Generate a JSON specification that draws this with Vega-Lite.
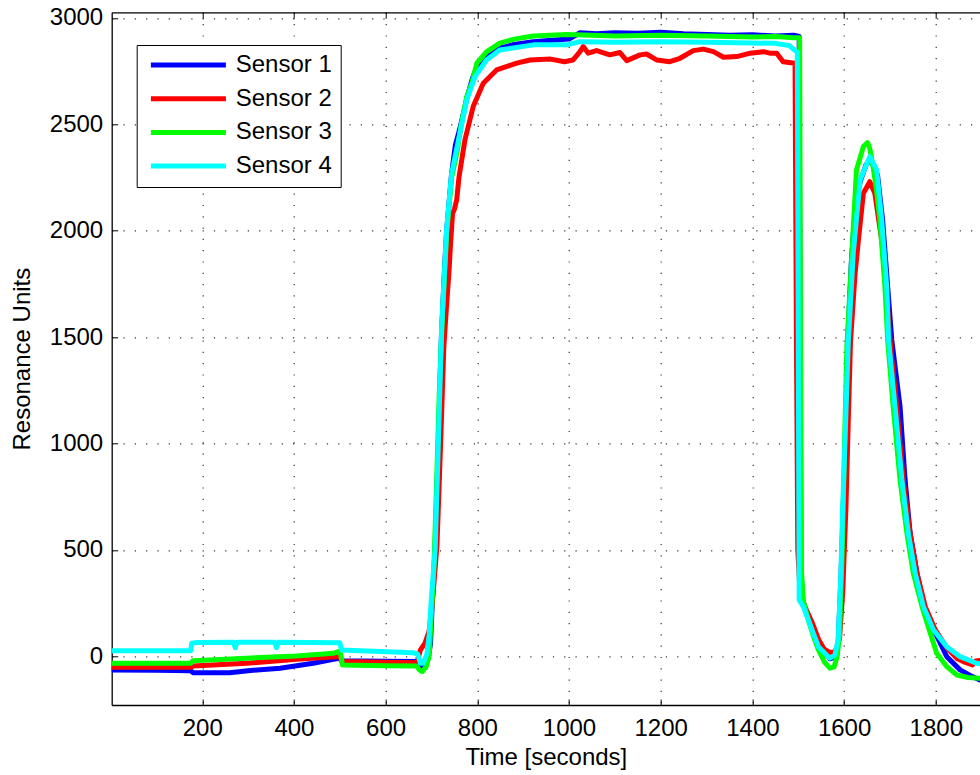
{
  "$schema": "https://vega.github.io/schema/vega-lite/v6.json",
  "width": 868.3,
  "height": 692.7,
  "autosize": {"type": "none"},
  "padding": {"left": 111.7, "top": 12.3, "right": 0, "bottom": 70},
  "background": "white",
  "config": {
    "view": {"stroke": null},
    "font": "Liberation Sans",
    "axis": {
      "labelFont": "Liberation Sans",
      "titleFont": "Liberation Sans",
      "labelFontSize": 24,
      "titleFontSize": 24,
      "titleFontWeight": "normal",
      "labelColor": "black",
      "titleColor": "black",
      "domainColor": "black",
      "domainWidth": 1.3,
      "tickColor": "black",
      "tickWidth": 1,
      "tickSize": -6,
      "gridColor": "black",
      "gridWidth": 1.2,
      "gridDash": [1.2, 10.1],
      "gridOpacity": 0.8,
      "format": "d"
    },
    "legend": {
      "labelFont": "Liberation Sans",
      "labelFontSize": 24,
      "labelColor": "black"
    }
  },
  "data": {
    "values": [
      {"t":3,"v":-64,"s":"Sensor 1"},{"t":100,"v":-66,"s":"Sensor 1"},{"t":175,"v":-68,"s":"Sensor 1"},{"t":180,"v":-77,"s":"Sensor 1"},{"t":260,"v":-77,"s":"Sensor 1"},{"t":300,"v":-68,"s":"Sensor 1"},{"t":370,"v":-56,"s":"Sensor 1"},{"t":442,"v":-33,"s":"Sensor 1"},{"t":486,"v":-14,"s":"Sensor 1"},{"t":500,"v":-10,"s":"Sensor 1"},{"t":504,"v":-21,"s":"Sensor 1"},{"t":600,"v":-24,"s":"Sensor 1"},{"t":668,"v":-25,"s":"Sensor 1"},{"t":676,"v":-50,"s":"Sensor 1"},{"t":686,"v":-41,"s":"Sensor 1"},{"t":693,"v":-10,"s":"Sensor 1"},{"t":698,"v":60,"s":"Sensor 1"},{"t":702,"v":260,"s":"Sensor 1"},{"t":708,"v":500,"s":"Sensor 1"},{"t":715,"v":1000,"s":"Sensor 1"},{"t":722,"v":1520,"s":"Sensor 1"},{"t":728,"v":1800,"s":"Sensor 1"},{"t":733,"v":2000,"s":"Sensor 1"},{"t":744,"v":2270,"s":"Sensor 1"},{"t":752,"v":2400,"s":"Sensor 1"},{"t":762,"v":2480,"s":"Sensor 1"},{"t":777,"v":2620,"s":"Sensor 1"},{"t":790,"v":2720,"s":"Sensor 1"},{"t":800,"v":2770,"s":"Sensor 1"},{"t":820,"v":2815,"s":"Sensor 1"},{"t":849,"v":2857,"s":"Sensor 1"},{"t":880,"v":2875,"s":"Sensor 1"},{"t":922,"v":2888,"s":"Sensor 1"},{"t":970,"v":2896,"s":"Sensor 1"},{"t":1000,"v":2900,"s":"Sensor 1"},{"t":1024,"v":2930,"s":"Sensor 1"},{"t":1060,"v":2925,"s":"Sensor 1"},{"t":1100,"v":2930,"s":"Sensor 1"},{"t":1150,"v":2928,"s":"Sensor 1"},{"t":1200,"v":2932,"s":"Sensor 1"},{"t":1250,"v":2925,"s":"Sensor 1"},{"t":1300,"v":2922,"s":"Sensor 1"},{"t":1350,"v":2918,"s":"Sensor 1"},{"t":1400,"v":2920,"s":"Sensor 1"},{"t":1450,"v":2915,"s":"Sensor 1"},{"t":1490,"v":2918,"s":"Sensor 1"},{"t":1502,"v":2912,"s":"Sensor 1"},{"t":1504,"v":1500,"s":"Sensor 1"},{"t":1506,"v":400,"s":"Sensor 1"},{"t":1510,"v":260,"s":"Sensor 1"},{"t":1522,"v":180,"s":"Sensor 1"},{"t":1533,"v":115,"s":"Sensor 1"},{"t":1544,"v":55,"s":"Sensor 1"},{"t":1558,"v":20,"s":"Sensor 1"},{"t":1569,"v":-12,"s":"Sensor 1"},{"t":1578,"v":-5,"s":"Sensor 1"},{"t":1587,"v":60,"s":"Sensor 1"},{"t":1593,"v":360,"s":"Sensor 1"},{"t":1598,"v":700,"s":"Sensor 1"},{"t":1603,"v":1016,"s":"Sensor 1"},{"t":1608,"v":1486,"s":"Sensor 1"},{"t":1616,"v":1860,"s":"Sensor 1"},{"t":1624,"v":2100,"s":"Sensor 1"},{"t":1635,"v":2230,"s":"Sensor 1"},{"t":1648,"v":2310,"s":"Sensor 1"},{"t":1656,"v":2332,"s":"Sensor 1"},{"t":1664,"v":2310,"s":"Sensor 1"},{"t":1673,"v":2260,"s":"Sensor 1"},{"t":1684,"v":2050,"s":"Sensor 1"},{"t":1695,"v":1737,"s":"Sensor 1"},{"t":1704,"v":1486,"s":"Sensor 1"},{"t":1722,"v":1173,"s":"Sensor 1"},{"t":1733,"v":829,"s":"Sensor 1"},{"t":1744,"v":578,"s":"Sensor 1"},{"t":1759,"v":390,"s":"Sensor 1"},{"t":1775,"v":233,"s":"Sensor 1"},{"t":1797,"v":118,"s":"Sensor 1"},{"t":1824,"v":-2,"s":"Sensor 1"},{"t":1853,"v":-64,"s":"Sensor 1"},{"t":1875,"v":-90,"s":"Sensor 1"},{"t":1896,"v":-111,"s":"Sensor 1"},

      {"t":3,"v":-52,"s":"Sensor 2"},{"t":100,"v":-52,"s":"Sensor 2"},{"t":175,"v":-52,"s":"Sensor 2"},{"t":180,"v":-46,"s":"Sensor 2"},{"t":297,"v":-33,"s":"Sensor 2"},{"t":406,"v":-14,"s":"Sensor 2"},{"t":493,"v":-2,"s":"Sensor 2"},{"t":500,"v":2,"s":"Sensor 2"},{"t":504,"v":-25,"s":"Sensor 2"},{"t":600,"v":-28,"s":"Sensor 2"},{"t":668,"v":-30,"s":"Sensor 2"},{"t":672,"v":0,"s":"Sensor 2"},{"t":676,"v":30,"s":"Sensor 2"},{"t":686,"v":62,"s":"Sensor 2"},{"t":695,"v":120,"s":"Sensor 2"},{"t":702,"v":250,"s":"Sensor 2"},{"t":712,"v":520,"s":"Sensor 2"},{"t":720,"v":1000,"s":"Sensor 2"},{"t":727,"v":1455,"s":"Sensor 2"},{"t":733,"v":1650,"s":"Sensor 2"},{"t":738,"v":1800,"s":"Sensor 2"},{"t":742,"v":1950,"s":"Sensor 2"},{"t":746,"v":2080,"s":"Sensor 2"},{"t":750,"v":2100,"s":"Sensor 2"},{"t":755,"v":2144,"s":"Sensor 2"},{"t":760,"v":2250,"s":"Sensor 2"},{"t":773,"v":2426,"s":"Sensor 2"},{"t":791,"v":2583,"s":"Sensor 2"},{"t":813,"v":2693,"s":"Sensor 2"},{"t":842,"v":2755,"s":"Sensor 2"},{"t":886,"v":2787,"s":"Sensor 2"},{"t":915,"v":2802,"s":"Sensor 2"},{"t":960,"v":2806,"s":"Sensor 2"},{"t":990,"v":2794,"s":"Sensor 2"},{"t":1009,"v":2802,"s":"Sensor 2"},{"t":1024,"v":2841,"s":"Sensor 2"},{"t":1031,"v":2865,"s":"Sensor 2"},{"t":1042,"v":2834,"s":"Sensor 2"},{"t":1060,"v":2846,"s":"Sensor 2"},{"t":1089,"v":2826,"s":"Sensor 2"},{"t":1111,"v":2837,"s":"Sensor 2"},{"t":1126,"v":2799,"s":"Sensor 2"},{"t":1155,"v":2826,"s":"Sensor 2"},{"t":1169,"v":2830,"s":"Sensor 2"},{"t":1191,"v":2802,"s":"Sensor 2"},{"t":1220,"v":2794,"s":"Sensor 2"},{"t":1242,"v":2810,"s":"Sensor 2"},{"t":1271,"v":2846,"s":"Sensor 2"},{"t":1293,"v":2853,"s":"Sensor 2"},{"t":1315,"v":2841,"s":"Sensor 2"},{"t":1337,"v":2815,"s":"Sensor 2"},{"t":1366,"v":2818,"s":"Sensor 2"},{"t":1395,"v":2834,"s":"Sensor 2"},{"t":1424,"v":2841,"s":"Sensor 2"},{"t":1438,"v":2834,"s":"Sensor 2"},{"t":1453,"v":2834,"s":"Sensor 2"},{"t":1467,"v":2794,"s":"Sensor 2"},{"t":1493,"v":2787,"s":"Sensor 2"},{"t":1496,"v":1500,"s":"Sensor 2"},{"t":1499,"v":500,"s":"Sensor 2"},{"t":1504,"v":300,"s":"Sensor 2"},{"t":1515,"v":230,"s":"Sensor 2"},{"t":1530,"v":160,"s":"Sensor 2"},{"t":1544,"v":80,"s":"Sensor 2"},{"t":1556,"v":35,"s":"Sensor 2"},{"t":1568,"v":18,"s":"Sensor 2"},{"t":1580,"v":20,"s":"Sensor 2"},{"t":1590,"v":80,"s":"Sensor 2"},{"t":1597,"v":300,"s":"Sensor 2"},{"t":1604,"v":700,"s":"Sensor 2"},{"t":1609,"v":1100,"s":"Sensor 2"},{"t":1614,"v":1480,"s":"Sensor 2"},{"t":1624,"v":1800,"s":"Sensor 2"},{"t":1631,"v":1950,"s":"Sensor 2"},{"t":1642,"v":2176,"s":"Sensor 2"},{"t":1656,"v":2230,"s":"Sensor 2"},{"t":1667,"v":2176,"s":"Sensor 2"},{"t":1686,"v":1894,"s":"Sensor 2"},{"t":1702,"v":1439,"s":"Sensor 2"},{"t":1715,"v":1173,"s":"Sensor 2"},{"t":1729,"v":829,"s":"Sensor 2"},{"t":1744,"v":578,"s":"Sensor 2"},{"t":1759,"v":390,"s":"Sensor 2"},{"t":1777,"v":233,"s":"Sensor 2"},{"t":1799,"v":124,"s":"Sensor 2"},{"t":1824,"v":40,"s":"Sensor 2"},{"t":1846,"v":-10,"s":"Sensor 2"},{"t":1860,"v":-25,"s":"Sensor 2"},{"t":1880,"v":-41,"s":"Sensor 2"},{"t":1887,"v":-22,"s":"Sensor 2"},{"t":1896,"v":-20,"s":"Sensor 2"},

      {"t":3,"v":-33,"s":"Sensor 3"},{"t":100,"v":-33,"s":"Sensor 3"},{"t":175,"v":-33,"s":"Sensor 3"},{"t":180,"v":-21,"s":"Sensor 3"},{"t":297,"v":-9,"s":"Sensor 3"},{"t":406,"v":1,"s":"Sensor 3"},{"t":486,"v":14,"s":"Sensor 3"},{"t":497,"v":22,"s":"Sensor 3"},{"t":502,"v":10,"s":"Sensor 3"},{"t":506,"v":-41,"s":"Sensor 3"},{"t":600,"v":-45,"s":"Sensor 3"},{"t":668,"v":-46,"s":"Sensor 3"},{"t":674,"v":-65,"s":"Sensor 3"},{"t":680,"v":-72,"s":"Sensor 3"},{"t":688,"v":-50,"s":"Sensor 3"},{"t":695,"v":0,"s":"Sensor 3"},{"t":700,"v":200,"s":"Sensor 3"},{"t":705,"v":400,"s":"Sensor 3"},{"t":711,"v":800,"s":"Sensor 3"},{"t":718,"v":1300,"s":"Sensor 3"},{"t":724,"v":1600,"s":"Sensor 3"},{"t":733,"v":1980,"s":"Sensor 3"},{"t":744,"v":2250,"s":"Sensor 3"},{"t":752,"v":2330,"s":"Sensor 3"},{"t":757,"v":2385,"s":"Sensor 3"},{"t":765,"v":2500,"s":"Sensor 3"},{"t":777,"v":2630,"s":"Sensor 3"},{"t":788,"v":2693,"s":"Sensor 3"},{"t":799,"v":2787,"s":"Sensor 3"},{"t":820,"v":2840,"s":"Sensor 3"},{"t":849,"v":2881,"s":"Sensor 3"},{"t":880,"v":2900,"s":"Sensor 3"},{"t":922,"v":2915,"s":"Sensor 3"},{"t":995,"v":2922,"s":"Sensor 3"},{"t":1050,"v":2918,"s":"Sensor 3"},{"t":1100,"v":2915,"s":"Sensor 3"},{"t":1200,"v":2918,"s":"Sensor 3"},{"t":1300,"v":2915,"s":"Sensor 3"},{"t":1400,"v":2910,"s":"Sensor 3"},{"t":1450,"v":2912,"s":"Sensor 3"},{"t":1490,"v":2906,"s":"Sensor 3"},{"t":1503,"v":2906,"s":"Sensor 3"},{"t":1505,"v":1500,"s":"Sensor 3"},{"t":1507,"v":400,"s":"Sensor 3"},{"t":1511,"v":260,"s":"Sensor 3"},{"t":1522,"v":170,"s":"Sensor 3"},{"t":1533,"v":95,"s":"Sensor 3"},{"t":1544,"v":30,"s":"Sensor 3"},{"t":1558,"v":-30,"s":"Sensor 3"},{"t":1569,"v":-56,"s":"Sensor 3"},{"t":1578,"v":-50,"s":"Sensor 3"},{"t":1585,"v":0,"s":"Sensor 3"},{"t":1590,"v":100,"s":"Sensor 3"},{"t":1596,"v":500,"s":"Sensor 3"},{"t":1601,"v":1000,"s":"Sensor 3"},{"t":1606,"v":1450,"s":"Sensor 3"},{"t":1617,"v":1894,"s":"Sensor 3"},{"t":1627,"v":2285,"s":"Sensor 3"},{"t":1642,"v":2395,"s":"Sensor 3"},{"t":1651,"v":2414,"s":"Sensor 3"},{"t":1656,"v":2387,"s":"Sensor 3"},{"t":1664,"v":2290,"s":"Sensor 3"},{"t":1670,"v":2200,"s":"Sensor 3"},{"t":1678,"v":2050,"s":"Sensor 3"},{"t":1689,"v":1737,"s":"Sensor 3"},{"t":1695,"v":1486,"s":"Sensor 3"},{"t":1707,"v":1173,"s":"Sensor 3"},{"t":1722,"v":829,"s":"Sensor 3"},{"t":1737,"v":578,"s":"Sensor 3"},{"t":1751,"v":390,"s":"Sensor 3"},{"t":1770,"v":233,"s":"Sensor 3"},{"t":1788,"v":108,"s":"Sensor 3"},{"t":1802,"v":14,"s":"Sensor 3"},{"t":1824,"v":-49,"s":"Sensor 3"},{"t":1846,"v":-88,"s":"Sensor 3"},{"t":1870,"v":-100,"s":"Sensor 3"},{"t":1896,"v":-103,"s":"Sensor 3"},

      {"t":3,"v":26,"s":"Sensor 4"},{"t":100,"v":26,"s":"Sensor 4"},{"t":175,"v":26,"s":"Sensor 4"},{"t":177,"v":61,"s":"Sensor 4"},{"t":190,"v":65,"s":"Sensor 4"},{"t":268,"v":66,"s":"Sensor 4"},{"t":272,"v":40,"s":"Sensor 4"},{"t":276,"v":66,"s":"Sensor 4"},{"t":358,"v":66,"s":"Sensor 4"},{"t":362,"v":40,"s":"Sensor 4"},{"t":366,"v":66,"s":"Sensor 4"},{"t":500,"v":64,"s":"Sensor 4"},{"t":504,"v":30,"s":"Sensor 4"},{"t":560,"v":25,"s":"Sensor 4"},{"t":660,"v":17,"s":"Sensor 4"},{"t":670,"v":10,"s":"Sensor 4"},{"t":676,"v":-33,"s":"Sensor 4"},{"t":682,"v":-33,"s":"Sensor 4"},{"t":690,"v":10,"s":"Sensor 4"},{"t":695,"v":100,"s":"Sensor 4"},{"t":700,"v":280,"s":"Sensor 4"},{"t":708,"v":500,"s":"Sensor 4"},{"t":715,"v":1001,"s":"Sensor 4"},{"t":722,"v":1534,"s":"Sensor 4"},{"t":733,"v":2003,"s":"Sensor 4"},{"t":744,"v":2270,"s":"Sensor 4"},{"t":762,"v":2458,"s":"Sensor 4"},{"t":777,"v":2614,"s":"Sensor 4"},{"t":795,"v":2724,"s":"Sensor 4"},{"t":820,"v":2802,"s":"Sensor 4"},{"t":849,"v":2849,"s":"Sensor 4"},{"t":922,"v":2873,"s":"Sensor 4"},{"t":995,"v":2873,"s":"Sensor 4"},{"t":1024,"v":2888,"s":"Sensor 4"},{"t":1100,"v":2885,"s":"Sensor 4"},{"t":1200,"v":2888,"s":"Sensor 4"},{"t":1300,"v":2885,"s":"Sensor 4"},{"t":1400,"v":2882,"s":"Sensor 4"},{"t":1450,"v":2880,"s":"Sensor 4"},{"t":1480,"v":2870,"s":"Sensor 4"},{"t":1494,"v":2845,"s":"Sensor 4"},{"t":1498,"v":2840,"s":"Sensor 4"},{"t":1500,"v":1500,"s":"Sensor 4"},{"t":1502,"v":265,"s":"Sensor 4"},{"t":1511,"v":233,"s":"Sensor 4"},{"t":1522,"v":171,"s":"Sensor 4"},{"t":1533,"v":108,"s":"Sensor 4"},{"t":1544,"v":45,"s":"Sensor 4"},{"t":1558,"v":14,"s":"Sensor 4"},{"t":1569,"v":-9,"s":"Sensor 4"},{"t":1580,"v":6,"s":"Sensor 4"},{"t":1587,"v":77,"s":"Sensor 4"},{"t":1593,"v":390,"s":"Sensor 4"},{"t":1597,"v":703,"s":"Sensor 4"},{"t":1602,"v":1016,"s":"Sensor 4"},{"t":1609,"v":1470,"s":"Sensor 4"},{"t":1620,"v":1894,"s":"Sensor 4"},{"t":1635,"v":2238,"s":"Sensor 4"},{"t":1656,"v":2348,"s":"Sensor 4"},{"t":1671,"v":2285,"s":"Sensor 4"},{"t":1682,"v":2050,"s":"Sensor 4"},{"t":1693,"v":1737,"s":"Sensor 4"},{"t":1697,"v":1486,"s":"Sensor 4"},{"t":1711,"v":1173,"s":"Sensor 4"},{"t":1726,"v":829,"s":"Sensor 4"},{"t":1740,"v":578,"s":"Sensor 4"},{"t":1755,"v":390,"s":"Sensor 4"},{"t":1773,"v":233,"s":"Sensor 4"},{"t":1795,"v":124,"s":"Sensor 4"},{"t":1824,"v":45,"s":"Sensor 4"},{"t":1853,"v":-2,"s":"Sensor 4"},{"t":1889,"v":-33,"s":"Sensor 4"},{"t":1896,"v":-35,"s":"Sensor 4"}
    ]
  },
  "resolve": {"axis": {"x": "independent"}},
  "layer": [
    {
      "mark": {"type": "line", "strokeWidth": 5, "clip": true, "strokeJoin": "round", "strokeCap": "round"},
      "encoding": {
        "x": {
          "field": "t", "type": "quantitative",
          "scale": {"domain": [2.6, 1896.4], "nice": false, "zero": false},
          "axis": {"orient": "bottom", "title": "Time [seconds]", "values": [200, 400, 600, 800, 1000, 1200, 1400, 1600, 1800], "labelPadding": 17.5, "titlePadding": 5, "grid": true, "labelFlush": false, "format": "d"}
        },
        "y": {
          "field": "v", "type": "quantitative",
          "scale": {"domain": [-229, 3026], "nice": false, "zero": false},
          "axis": {"orient": "left", "title": "Resonance Units", "values": [0, 500, 1000, 1500, 2000, 2500, 3000], "labelPadding": 15, "titlePadding": 15, "grid": true, "labelFlush": false, "format": "d"}
        },
        "color": {
          "field": "s", "type": "nominal",
          "scale": {"domain": ["Sensor 1", "Sensor 2", "Sensor 3", "Sensor 4"], "range": ["#0000ff", "#ff0000", "#00ff00", "#00ffff"]},
          "legend": {
            "orient": "none", "legendX": 25, "legendY": 32.7, "title": null,
            "symbolType": "stroke", "symbolSize": 5625, "symbolStrokeWidth": 5,
            "strokeColor": "black", "fillColor": "white", "padding": 8,
            "clipHeight": 24, "symbolOffset": 3.7,
            "labelOffset": 7.3, "rowPadding": 9.7, "labelFontSize": 24
          }
        }
      }
    },
    {
      "mark": {"type": "point", "opacity": 0},
      "encoding": {
        "x": {
          "field": "t", "type": "quantitative",
          "axis": {"orient": "top", "title": null, "labels": false, "grid": false, "values": [200, 400, 600, 800, 1000, 1200, 1400, 1600, 1800]}
        }
      }
    }
  ]
}
